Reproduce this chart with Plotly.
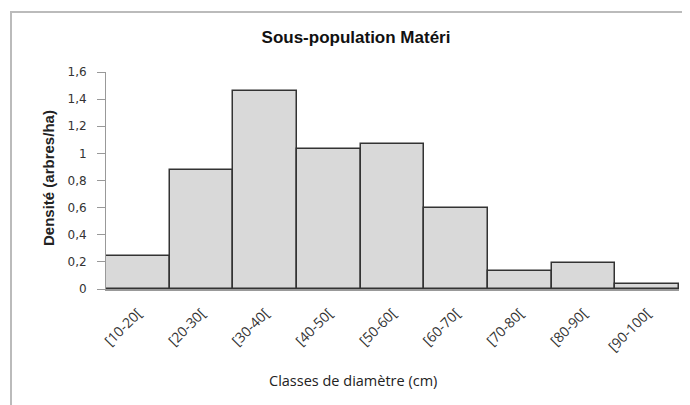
import plotly.graph_objects as go

classes = ["[10-20[", "[20-30[", "[30-40[", "[40-50[", "[50-60[",
           "[60-70[", "[70-80[", "[80-90[", "[90-100["]
densite = [0.24, 0.88, 1.46, 1.03, 1.07, 0.60, 0.13, 0.19, 0.04]
y_ticks = [0, 0.2, 0.4, 0.6, 0.8, 1, 1.2, 1.4, 1.6]
y_tick_labels = ["0", "0,2", "0,4", "0,6", "0,8", "1", "1,2", "1,4", "1,6"]

# the page puts the plot 8px in from the top-left corner, so work in
# reference-pixel coordinates and subtract that offset
OFF = 8
W, H = 690 - OFF, 405 - OFF
L, R, T, B = 106 - OFF, 11, 72 - OFF, 116
pw, ph = W - L - R, H - T - B


def px(x):
    return (x - OFF - L) / pw


def py(y):
    return (H - B - (y - OFF)) / ph


fig = go.Figure()
fig.add_trace(
    go.Bar(
        x=classes,
        y=densite,
        marker=dict(color="#d9d9d9", line=dict(color="#333333", width=1.5)),
        width=1,
    )
)

fig.update_layout(
    width=W,
    height=H,
    margin=dict(l=L, r=R, t=T, b=B),
    paper_bgcolor="white",
    plot_bgcolor="white",
    showlegend=False,
    bargap=0,
    font=dict(family="Liberation Sans, Arial", size=11, color="#222222"),
    title=dict(
        text="<b>Sous-population Matéri</b>",
        x=px(356), xref="paper", xanchor="center",
        y=1 - (37 - OFF) / H, yanchor="middle",
        font=dict(size=17, color="#111111"),
    ),
    xaxis=dict(
        tickangle=-45,
        showline=True, linecolor="#999999", linewidth=1.5,
        ticks="outside", ticklen=9, tickcolor="rgba(0,0,0,0)",
        showgrid=False,
        tickfont=dict(family="Open Sans, Liberation Sans", size=14, color="#333333"),
        range=[-0.5, 8.5],
    ),
    yaxis=dict(
        range=[0, 1.6],
        tickvals=y_ticks, ticktext=y_tick_labels,
        showline=True, linecolor="#999999", linewidth=1,
        ticks="outside", ticklen=8, tickcolor="#999999",
        ticklabelstandoff=8,
        showgrid=False, zeroline=False,
        tickfont=dict(family="DejaVu Sans", size=12, color="#333333"),
    ),
    shapes=[
        dict(type="line", xref="paper", yref="paper",
             x0=px(10), x1=px(690), y0=py(12), y1=py(12),
             line=dict(color="#bbbbbb", width=2)),
        dict(type="line", xref="paper", yref="paper",
             x0=px(11), x1=px(11), y0=py(12), y1=py(405),
             line=dict(color="#bbbbbb", width=2)),
    ],
    annotations=[
        dict(text="<b>Densité (arbres/ha)</b>", textangle=-90,
             xref="paper", yref="paper", x=px(48), y=py(178),
             xanchor="center", yanchor="middle",
             showarrow=False, font=dict(size=15)),
        dict(text="Classes de diamètre (cm)",
             xref="paper", yref="paper", x=px(353), y=py(380),
             xanchor="center", yanchor="middle",
             showarrow=False,
             font=dict(family="Open Sans, Liberation Sans", size=14.5)),
    ],
)

fig.write_html("out.html")
